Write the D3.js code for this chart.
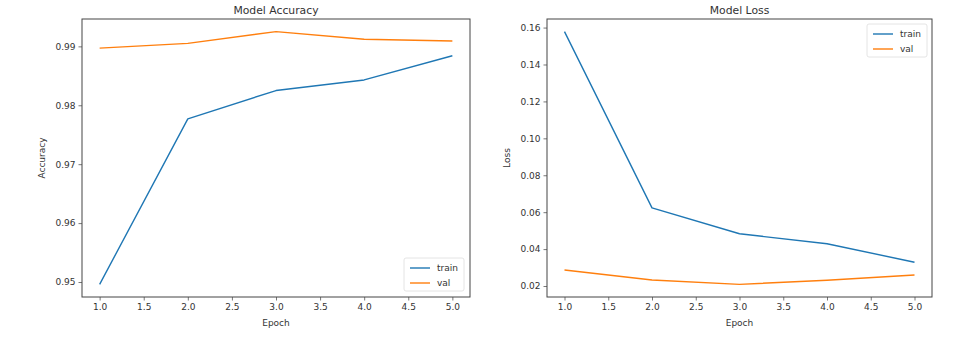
<!DOCTYPE html>
<html>
<head>
<meta charset="utf-8">
<script src="https://cdn.jsdelivr.net/npm/d3@7"></script>
<style>
html,body{margin:0;padding:0;background:#fff;}
svg{display:block;font-family:"DejaVu Sans",sans-serif;}
</style>
</head>
<body>
<svg id="chart" width="974" height="341"></svg>
<script>
const epochs = [1, 2, 3, 4, 5];
const accTrain = [0.9496, 0.9777, 0.9825, 0.9843, 0.9884];
const accVal = [0.9897, 0.9905, 0.9925, 0.9912, 0.9909];
const lossTrain = [0.1578, 0.0623, 0.0483, 0.0429, 0.0329];
const lossVal = [0.0287, 0.0233, 0.0209, 0.0231, 0.0260];
const xTicks = [1.0, 1.5, 2.0, 2.5, 3.0, 3.5, 4.0, 4.5, 5.0];
const accTicks = [0.95, 0.96, 0.97, 0.98, 0.99];
const lossTicks = [0.02, 0.04, 0.06, 0.08, 0.10, 0.12, 0.14, 0.16];
const seriesNames = ["train", "val"];
const colors = ["#1f77b4", "#ff7f0e"];

const svg = d3.select("#chart");
const textColor = "#333";

function panel(cfg) {
  const {left, right, top, bottom, title, ylabel, series, yTicks, yFmt, legendPos} = cfg;
  const g = svg.append("g");
  const allY = series.flat();
  const ymin = d3.min(allY), ymax = d3.max(allY);
  const ym = (ymax - ymin) * 0.05;
  const xm = (5 - 1) * 0.05;
  const x = d3.scaleLinear().domain([1 - xm, 5 + xm]).range([left, right]);
  const y = d3.scaleLinear().domain([ymin - ym, ymax + ym]).range([bottom, top]);

  // axes
  const xAxis = g.append("g").attr("transform", `translate(0,${bottom})`)
    .call(d3.axisBottom(x).tickValues(xTicks).tickFormat(d3.format(".1f")).tickSize(3.5).tickPadding(3));
  const yAxis = g.append("g").attr("transform", `translate(${left},0)`)
    .call(d3.axisLeft(y).tickValues(yTicks).tickFormat(d3.format(yFmt)).tickSize(3.5).tickPadding(3));
  [xAxis, yAxis].forEach(a => {
    a.select(".domain").remove();
    a.selectAll("line").attr("stroke", "#555").attr("stroke-width", 0.8);
    a.selectAll("text").attr("fill", textColor).style("font-size", "9px").style("font-family", "DejaVu Sans");
  });

  // lines
  const line = d3.line().x((d, i) => x(epochs[i])).y(d => y(d));
  series.forEach((s, i) => {
    g.append("path").datum(s).attr("d", line).attr("fill", "none")
      .attr("stroke", colors[i]).attr("stroke-width", 1.4).attr("stroke-linejoin", "round");
  });

  // frame
  g.append("rect").attr("x", left).attr("y", top).attr("width", right - left).attr("height", bottom - top)
    .attr("fill", "none").attr("stroke", "#444").attr("stroke-width", 1);

  // title & labels
  g.append("text").attr("x", (left + right) / 2).attr("y", top - 5).attr("text-anchor", "middle")
    .attr("fill", textColor).style("font-size", "10.8px").text(title);
  g.append("text").attr("x", (left + right) / 2).attr("y", bottom + 29).attr("text-anchor", "middle")
    .attr("fill", textColor).style("font-size", "9px").text("Epoch");
  g.append("text").attr("transform", `translate(${cfg.ylabelX},${(top + bottom) / 2}) rotate(-90)`)
    .attr("text-anchor", "middle").attr("fill", textColor).style("font-size", "9px").text(ylabel);

  // legend
  const lg = g.append("g").attr("transform", `translate(${legendPos[0]},${legendPos[1]})`);
  lg.append("rect").attr("width", 60).attr("height", 33).attr("rx", 2)
    .attr("fill", "#fff").attr("fill-opacity", 0.8).attr("stroke", "#ddd").attr("stroke-width", 0.8);
  seriesNames.forEach((n, i) => {
    const yy = 10 + i * 15;
    lg.append("line").attr("x1", 6).attr("x2", 26).attr("y1", yy).attr("y2", yy)
      .attr("stroke", colors[i]).attr("stroke-width", 1.4);
    lg.append("text").attr("x", 33).attr("y", yy + 3).attr("fill", textColor)
      .style("font-size", "9px").text(n);
  });
}

panel({left: 82, right: 470, top: 19, bottom: 297, title: "Model Accuracy", ylabel: "Accuracy",
  series: [accTrain, accVal], yTicks: accTicks, yFmt: ".2f", legendPos: [404, 258], ylabelX: 45});
panel({left: 547, right: 932, top: 19, bottom: 297, title: "Model Loss", ylabel: "Loss",
  series: [lossTrain, lossVal], yTicks: lossTicks, yFmt: ".2f", legendPos: [867, 24], ylabelX: 510});
</script>
</body>
</html>
